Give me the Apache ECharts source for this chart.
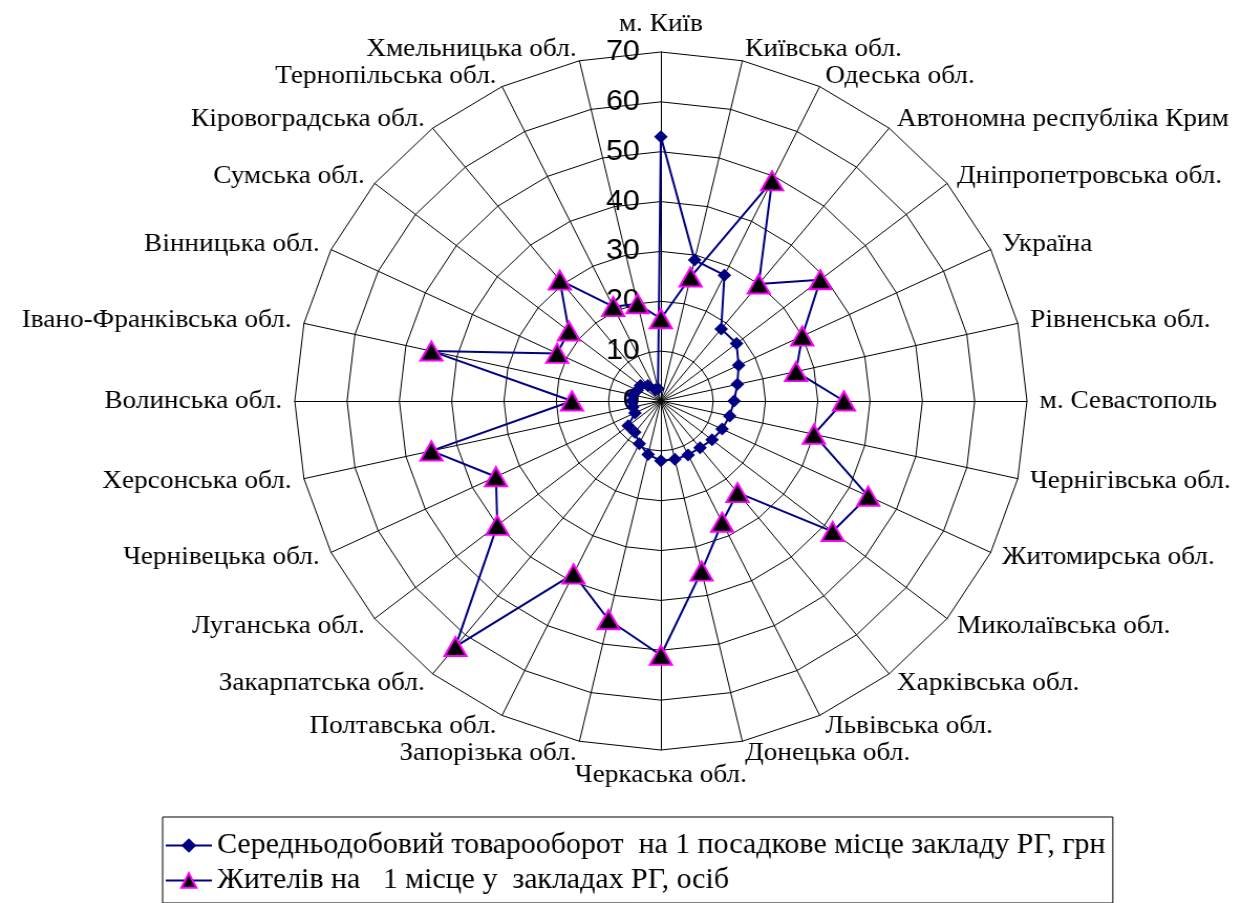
<!DOCTYPE html>
<html>
<head>
<meta charset="utf-8">
<script src="https://cdn.jsdelivr.net/npm/echarts@6/dist/echarts.min.js"></script>
<style>
html,body{margin:0;padding:0;background:#fff;overflow:hidden;}
#chart{width:1194px;height:903px;transform:scaleX(1.049);transform-origin:0 0;}
</style>
</head>
<body>
<div id="chart"></div>
<script>
// Categories listed clockwise from the top
const categories = [
  'м. Київ', 'Київська обл.', 'Одеська обл.', 'Автономна республіка Крим',
  'Дніпропетровська обл.', 'Україна', 'Рівненська обл.', 'м. Севастополь',
  'Чернігівська обл.', 'Житомирська обл.', 'Миколаївська обл.', 'Харківська обл.',
  'Львівська обл.', 'Донецька обл.', 'Черкаська обл.', 'Запорізька обл.',
  'Полтавська обл.', 'Закарпатська обл.', 'Луганська обл.', 'Чернівецька обл.',
  'Херсонська обл.', 'Волинська обл.', 'Івано-Франківська обл.', 'Вінницька обл.',
  'Сумська обл.', 'Кіровоградська обл.', 'Тернопільська обл.', 'Хмельницька обл.'
];
const turnover = [53, 29, 28, 18.5, 18.5, 16.5, 15, 14, 13.5, 13, 12.5, 12, 12, 12,
  12, 11, 9.5, 8, 8, 5.5, 5.5, 5.5, 5.5, 5, 5, 4, 2.5, 2.5];
const residents = [16.5, 25.5, 49, 30, 39, 30, 26.5, 35, 30, 44, 42, 23.5, 27, 35,
  51, 45, 38.5, 63, 40, 35, 45, 17, 45, 22, 22.5, 31, 21, 20];
const seriesNames = [
  'Середньодобовий товарооборот  на 1 посадкове місце закладу РГ, грн',
  'Жителів на   1 місце у  закладах РГ, осіб'
];
const axisMin = 0, axisMax = 70, axisSplits = 7;

// ECharts radar runs counter-clockwise: reorder so the chart reads clockwise
const order = [0].concat(categories.map((_, i) => i).slice(1).reverse());
const reorder = arr => order.map(i => arr[i]);

const chart = echarts.init(document.getElementById('chart'), null, {renderer: 'canvas'});
const navy = '#000080';
const sym1 = {symbol: 'diamond', symbolSize: 13, itemStyle: {color: navy}, lineStyle: {color: navy, width: 2}};
const sym2 = {symbol: 'triangle', symbolSize: [21, 19], itemStyle: {color: '#000000', borderColor: '#FF00FF', borderWidth: 2}, lineStyle: {color: navy, width: 2}};

chart.setOption({
  animation: false,
  backgroundColor: '#ffffff',
  textStyle: {fontFamily: 'Liberation Serif'},
  grid: {show: false, left: 0, top: 0, width: 1, height: 1},
  xAxis: {show: false, type: 'category', data: []},
  yAxis: {show: false, type: 'value'},
  legend: {
    orient: 'vertical', left: 155, top: 817,
    itemWidth: 44, itemHeight: 18, itemGap: 6,
    padding: [14, 7, 8, 2],
    borderColor: '#000', borderWidth: 1,
    textStyle: {fontFamily: 'Liberation Serif', fontSize: 28.5, color: '#000'},
    data: seriesNames
  },
  radar: {
    center: [630, 401], radius: 349, startAngle: 90, shape: 'polygon', splitNumber: axisSplits,
    nameGap: 12,
    axisName: {color: '#000', fontFamily: 'Liberation Serif', fontSize: 26},
    splitLine: {lineStyle: {color: '#000', width: 1}},
    splitArea: {show: false},
    axisLine: {lineStyle: {color: '#000', width: 1}},
    axisTick: {show: false},
    axisLabel: {show: false},
    indicator: reorder(categories).map((c, i) => {
      const ind = {name: c, min: axisMin, max: axisMax};
      if (i === 0) ind.axisLabel = {show: true, color: '#000', fontFamily: 'Liberation Sans', fontSize: 29, margin: 20, padding: [8, 0, 0, 0]};
      return ind;
    })
  },
  series: [
    Object.assign({type: 'line', name: seriesNames[0], data: []}, sym1),
    Object.assign({type: 'line', name: seriesNames[1], data: []}, sym2),
    {
      type: 'radar',
      z: 3,
      data: [
        Object.assign({name: seriesNames[0], value: reorder(turnover)}, sym1),
        Object.assign({name: seriesNames[1], value: reorder(residents)}, sym2)
      ]
    }
  ]
});
</script>
</body>
</html>
